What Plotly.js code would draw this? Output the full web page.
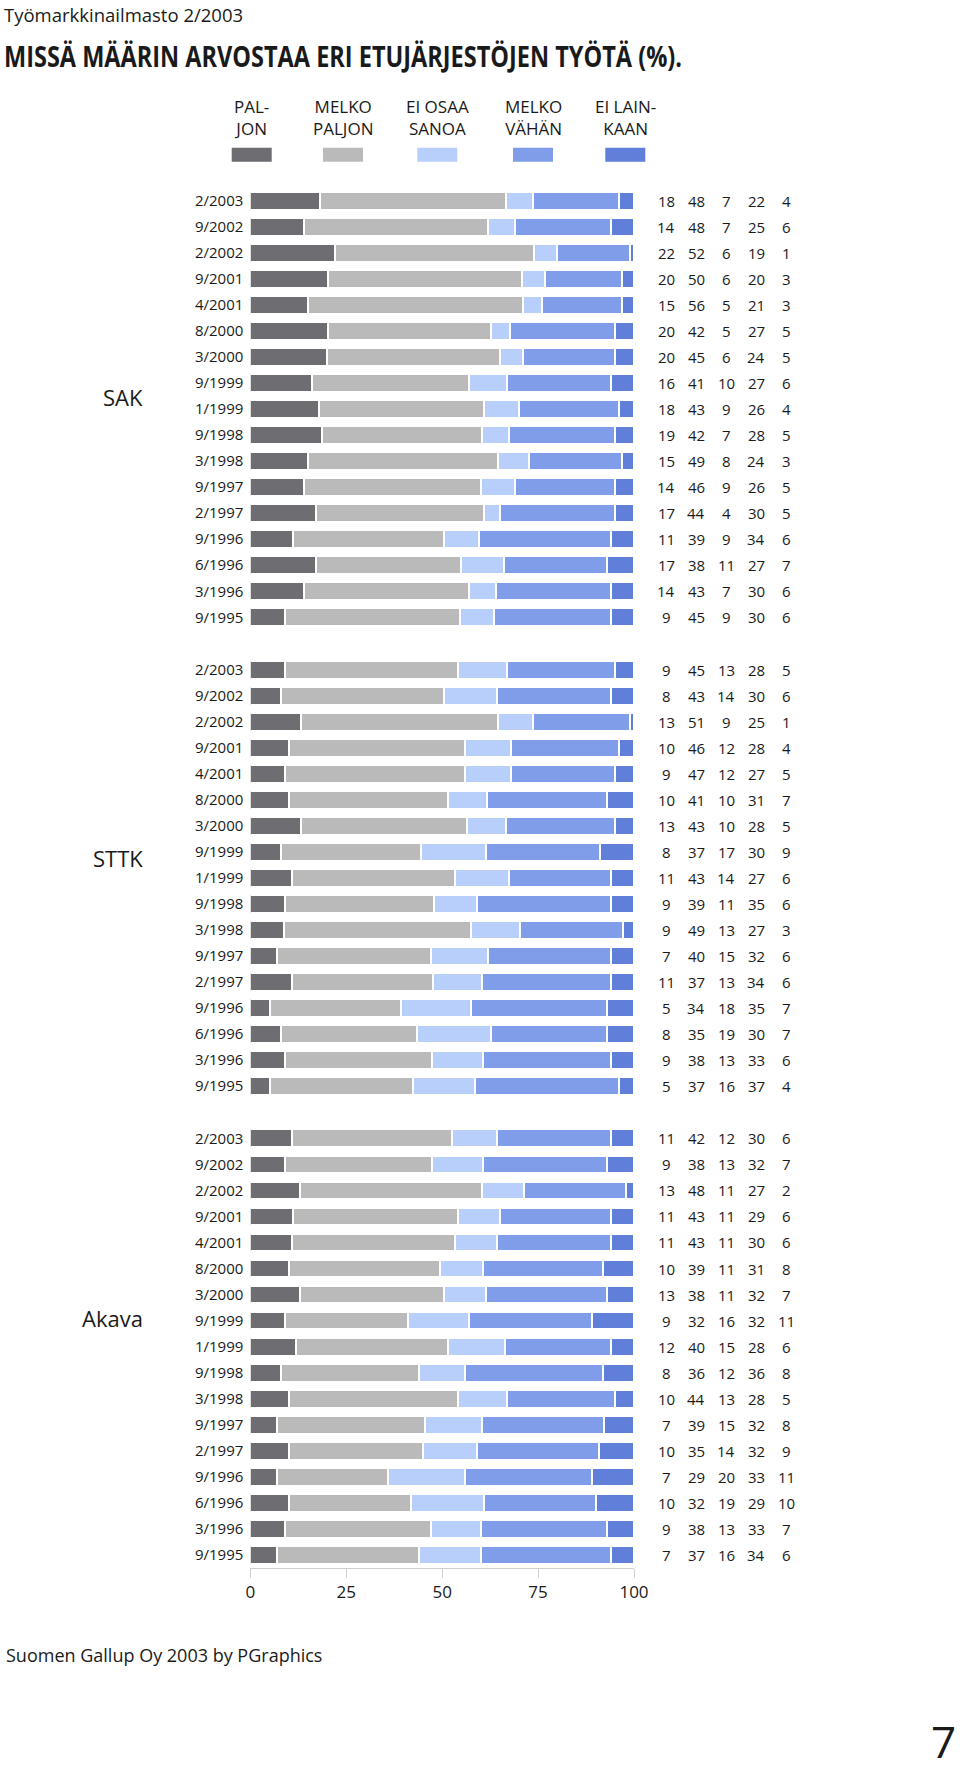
<!DOCTYPE html>
<html>
<head>
<meta charset="utf-8">
<script src="https://cdn.plot.ly/plotly-3.0.1.min.js"></script>
<style>html,body{margin:0;padding:0;background:#fff;}</style>
</head>
<body>
<div id="chart" style="width:960px;height:1773px;"></div>
<script>
// ---- data ----
const dates = ['2/2003','9/2002','2/2002','9/2001','4/2001','8/2000','3/2000','9/1999','1/1999','9/1998','3/1998','9/1997','2/1997','9/1996','6/1996','3/1996','9/1995'];
const seriesNames = ['PAL-<br>JON','MELKO<br>PALJON','EI OSAA<br>SANOA','MELKO<br>VÄHÄN','EI LAIN-<br>KAAN'];
const groupNames = ['SAK','STTK','Akava'];

const sakPaljon      = [18,14,22,20,15,20,20,16,18,19,15,14,17,11,17,14,9];
const sakMelkoPaljon = [48,48,52,50,56,42,45,41,43,42,49,46,44,39,38,43,45];
const sakEiOsaa      = [7,7,6,6,5,5,6,10,9,7,8,9,4,9,11,7,9];
const sakMelkoVahan  = [22,25,19,20,21,27,24,27,26,28,24,26,30,34,27,30,30];
const sakEiLainkaan  = [4,6,1,3,3,5,5,6,4,5,3,5,5,6,7,6,6];

const sttkPaljon      = [9,8,13,10,9,10,13,8,11,9,9,7,11,5,8,9,5];
const sttkMelkoPaljon = [45,43,51,46,47,41,43,37,43,39,49,40,37,34,35,38,37];
const sttkEiOsaa      = [13,14,9,12,12,10,10,17,14,11,13,15,13,18,19,13,16];
const sttkMelkoVahan  = [28,30,25,28,27,31,28,30,27,35,27,32,34,35,30,33,37];
const sttkEiLainkaan  = [5,6,1,4,5,7,5,9,6,6,3,6,6,7,7,6,4];

const akavaPaljon      = [11,9,13,11,11,10,13,9,12,8,10,7,10,7,10,9,7];
const akavaMelkoPaljon = [42,38,48,43,43,39,38,32,40,36,44,39,35,29,32,38,37];
const akavaEiOsaa      = [12,13,11,11,11,11,11,16,15,12,13,15,14,20,19,13,16];
const akavaMelkoVahan  = [30,32,27,29,30,31,32,32,28,36,28,32,32,33,29,33,34];
const akavaEiLainkaan  = [6,7,2,6,6,8,7,11,6,8,5,8,9,11,10,7,6];

const xTicks = [0,25,50,75,100];

// ---- styling ----
const colors = ['#6d6d72','#bababa','#b7cffa','#7f9de9','#5f7fd9'];
const FONT = 'Open Sans, Noto Sans, sans-serif';
const TXT = '#1a1a1a';
const H = 1773, W = 960;
const py = p => 1 - p / H;
const px = p => p / W;

const groups = [
  {name: groupNames[0], axis: 'y',  series: [sakPaljon, sakMelkoPaljon, sakEiOsaa, sakMelkoVahan, sakEiLainkaan], dom: [py(630.3), py(187.7)], labelY: 397},
  {name: groupNames[1], axis: 'y2', series: [sttkPaljon, sttkMelkoPaljon, sttkEiOsaa, sttkMelkoVahan, sttkEiLainkaan], dom: [py(1099), py(657)], labelY: 858},
  {name: groupNames[2], axis: 'y3', series: [akavaPaljon, akavaMelkoPaljon, akavaEiOsaa, akavaMelkoVahan, akavaEiLainkaan], dom: [py(1568), py(1125.3)], labelY: 1318}
];

const traces = [];
const annotations = [];
const numCols = [666, 696, 726, 756, 786];

groups.forEach(g => {
  g.series.forEach((vals, si) => {
    traces.push({
      type: 'bar', orientation: 'h',
      x: vals, y: dates,
      xaxis: 'x', yaxis: g.axis,
      name: seriesNames[si].replace('<br>', ' '),
      marker: {color: colors[si], line: {color: '#ffffff', width: 2}},
      hoverinfo: 'skip'
    });
    vals.forEach((v, i) => {
      annotations.push({
        xref: 'paper', yref: g.axis, x: px(numCols[si]), y: dates[i],
        text: String(v), showarrow: false, xanchor: 'center', yanchor: 'middle',
        font: {family: FONT, size: 15, color: TXT}
      });
    });
  });
  annotations.push({
    xref: 'paper', yref: 'paper', x: px(145), y: py(g.labelY),
    text: g.name, showarrow: false, xanchor: 'right', yanchor: 'middle',
    font: {family: FONT, size: 22, color: TXT}
  });
});

// legend (custom: two-line labels above swatches)
const legendCenters = [251.7, 343, 437.3, 533, 625.3];
const shapes = [];
seriesNames.forEach((n, i) => {
  annotations.push({
    xref: 'paper', yref: 'paper', x: px(legendCenters[i]), y: py(117.5),
    text: n, showarrow: false, xanchor: 'center', yanchor: 'middle', align: 'center',
    font: {family: FONT, size: 17, color: TXT}
  });
  shapes.push({
    type: 'rect', xref: 'paper', yref: 'paper',
    x0: px(legendCenters[i] - 20), x1: px(legendCenters[i] + 20),
    y0: py(161.7), y1: py(147.7),
    fillcolor: colors[i], line: {width: 0}
  });
});

// header / footer texts
annotations.push({
  xref: 'paper', yref: 'paper', x: px(2), y: py(15), xanchor: 'left', yanchor: 'middle',
  text: 'Työmarkkinailmasto 2/2003', showarrow: false,
  font: {family: FONT, size: 18.5, color: TXT}
});
annotations.push({
  xref: 'paper', yref: 'paper', x: px(4), y: py(1655), xanchor: 'left', yanchor: 'middle',
  text: 'Suomen Gallup Oy 2003 by PGraphics', showarrow: false,
  font: {family: FONT, size: 18, color: TXT}
});
annotations.push({
  xref: 'paper', yref: 'paper', x: px(958), y: 0, xanchor: 'right', yanchor: 'bottom',
  text: '7', showarrow: false,
  font: {family: FONT, size: 44, color: TXT}
});

const yBase = {
  type: 'category', categoryarray: dates, categoryorder: 'array',
  range: [16.5, -0.5], showgrid: false, zeroline: false, showline: false,
  ticks: '', tickfont: {family: FONT, size: 15, color: TXT},
  ticklabelstandoff: 6, fixedrange: true
};

const layout = {
  width: W, height: H,
  margin: {l: 0, r: 0, t: 0, b: 0},
  paper_bgcolor: '#ffffff', plot_bgcolor: '#ffffff',
  barmode: 'stack', barnorm: 'percent', bargap: 0.32,
  showlegend: false,
  title: {
    text: '<b>MISSÄ MÄÄRIN ARVOSTAA ERI ETUJÄRJESTÖJEN TYÖTÄ (%).</b>',
    font: {family: FONT, size: 28, color: TXT},
    x: px(4), xanchor: 'left', xref: 'paper',
    y: py(57), yanchor: 'middle', yref: 'container'
  },
  xaxis: {
    domain: [px(250.3), px(634)], range: [0, 100], anchor: 'y3',
    tickvals: xTicks, ticktext: xTicks.map(String),
    ticks: 'outside', ticklen: 9, tickcolor: '#cfcfcf', tickwidth: 1,
    showline: true, linecolor: '#cfcfcf', linewidth: 1,
    showgrid: false, zeroline: false,
    tickfont: {family: FONT, size: 17, color: TXT}, fixedrange: true
  },
  yaxis:  Object.assign({}, yBase, {domain: groups[0].dom, anchor: 'x'}),
  yaxis2: Object.assign({}, yBase, {domain: groups[1].dom, anchor: 'x'}),
  yaxis3: Object.assign({}, yBase, {domain: groups[2].dom, anchor: 'x'}),
  annotations: annotations,
  shapes: shapes
};

Plotly.newPlot('chart', traces, layout, {displayModeBar: false, staticPlot: true}).then(() => {
  // the reference title is set in a condensed bold face: compress the real text to its width
  const t = document.querySelector('.gtitle');
  if (t) {
    t.setAttribute('textLength', '678');
    t.setAttribute('lengthAdjust', 'spacingAndGlyphs');
  }
});
</script>
</body>
</html>
